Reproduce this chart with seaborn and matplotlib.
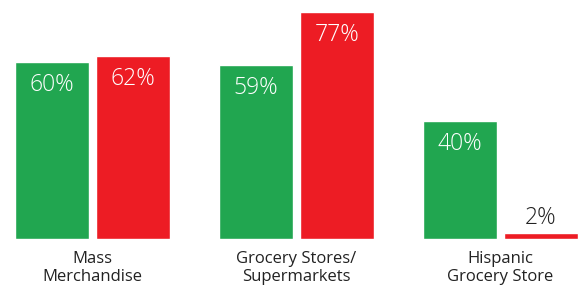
import pandas as pd
import seaborn as sns
import matplotlib.pyplot as plt

# values
categories = ["Mass\nMerchandise", "Grocery Stores/\nSupermarkets", "Hispanic\nGrocery Store"]
series = ["Series A", "Series B"]
green_vals = [60, 59, 40]
red_vals = [62, 77, 2]

df = pd.DataFrame({
    "category": categories * 2,
    "series": [series[0]] * 3 + [series[1]] * 3,
    "value": green_vals + red_vals,
})

sns.set_theme(style="white")
plt.rcParams["font.family"] = ["Open Sans", "DejaVu Sans"]

GREEN = "#21A650"
RED = "#ED1C24"

fig = plt.figure(figsize=(5.82, 2.86), dpi=100)
ax = fig.add_axes([0, 47.5 / 286, 1, 238.5 / 286])

sns.barplot(data=df, x="category", y="value", hue="series", order=categories,
            hue_order=series, palette=[GREEN, RED], width=0.794, gap=0.086,
            saturation=1, legend=False, ax=ax)

ax.set_xlim(-0.4534, 2.3995)
ax.set_ylim(0, 238.5 / 2.94)
sns.despine(ax=ax, left=True, bottom=True)
ax.set_yticks([])
ax.set_xlabel("")
ax.set_ylabel("")
ax.tick_params(axis="x", length=0, pad=9, labelsize=12, labelcolor="#222222")
for lab in ax.get_xticklabels():
    lab.set_linespacing(1.15)

# value labels: inside the bar (white) unless the bar is too short
for p in ax.patches:
    h = p.get_height()
    x = p.get_x() + p.get_width() / 2
    if h > 10:
        ax.annotate(f"{h:.0f}%", (x, h), xytext=(0, -8), textcoords="offset points",
                    ha="center", va="top", color="white", fontsize=16.5, fontweight="light")
    else:
        ax.annotate(f"{h:.0f}%", (x, h), xytext=(0, 2), textcoords="offset points",
                    ha="center", va="bottom", color="#222222", fontsize=16.5, fontweight="light")

fig.savefig("out.png", dpi=100)
